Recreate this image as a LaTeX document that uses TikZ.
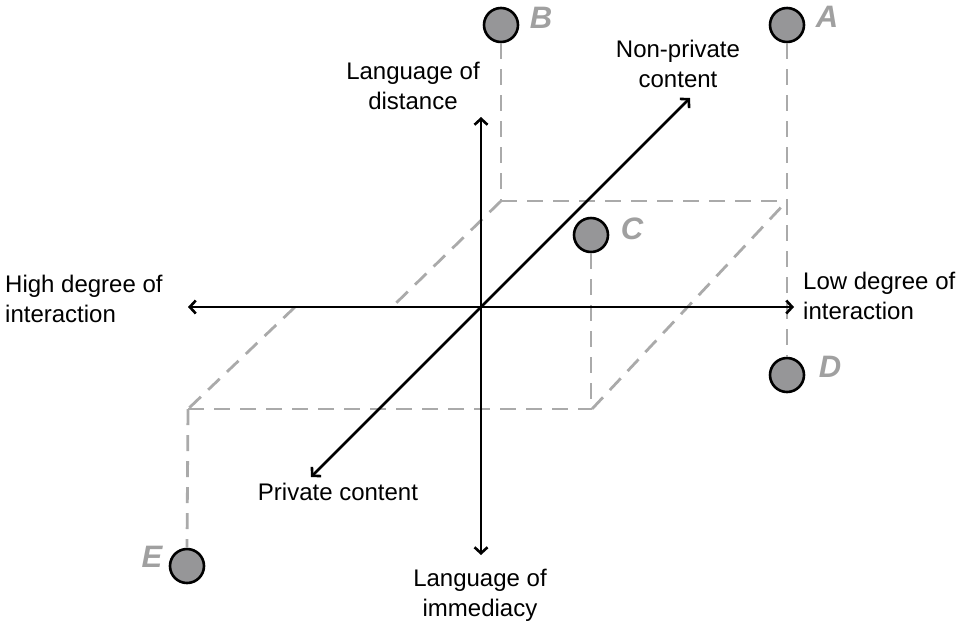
\documentclass[tikz,border=0pt]{standalone}
\usepackage{fontspec}
\setmainfont{Liberation Sans}
\usetikzlibrary{arrows.meta}
\definecolor{dashgray}{RGB}{170,170,170}
\definecolor{dotfill}{RGB}{150,150,152}
\definecolor{lettergray}{RGB}{160,160,160}
\begin{document}
\begin{tikzpicture}[x=1pt,y=-1pt,
  axis/.style={line width=2.6pt,{Straight Barb[length=6pt,width=13pt]}-{Straight Barb[length=6pt,width=13pt]}},
  guide/.style={dashgray,line width=2.8pt,dash pattern=on 16pt off 10pt},
  dot/.style={circle,draw=black,fill=dotfill,line width=2.6pt,minimum size=34pt,inner sep=0pt},
  letter/.style={text=lettergray,inner sep=0pt,font=\fontsize{31}{32}\selectfont\bfseries\itshape},
  lbl/.style={inner sep=0pt,font=\fontsize{24}{30}\selectfont}]
\useasboundingbox (0,0) rectangle (963,625);

% axis end points
\coordinate (top) at (481,117);
\coordinate (bottom) at (481,555);
\coordinate (left) at (188,307);
\coordinate (right) at (794,307);
\coordinate (ne) at (690,98);
\coordinate (sw) at (311,477);

% parallelogram corners
\coordinate (tl) at (501,201);
\coordinate (tr) at (787,201);
\coordinate (bl) at (188,409);
\coordinate (br) at (592,409);
\coordinate (lu) at (392,307);
\coordinate (ll) at (295,307);
\coordinate (cb) at (591,409);

% dots
\node[dot] (B) at (501,25) {};
\node[dot] (A) at (787,25) {};
\node[dot] (C) at (591,235) {};
\node[dot] (D) at (787,375) {};
\node[dot] (E) at (187,566) {};

% guides
\draw[guide] (B.south) -- (tl);
\draw[guide] (tl) -- (tr);
\draw[guide] (A.south) -- (D.north);
\draw[guide] (tl) -- (lu);
\draw[guide] (ll) -- (bl);
\draw[guide] (bl) -- (br);
\draw[guide] (bl) -- (E.north);
\draw[guide] (C.south) -- (cb);
\draw[guide] (br) -- (tr);

% axes
\draw[axis] (left) -- (right);
\draw[axis] (top) -- (bottom);
\draw[axis] (sw) -- (ne);

% letters
\node[letter] (lB) at (541,18) {B};
\node[letter] (lA) at (827,17) {A};
\node[letter] (lC) at (632,229) {C};
\node[letter] (lD) at (830,367) {D};
\node[letter] (lE) at (152,557) {E};

% labels
\node[lbl,align=center] (dist) at (413,86) {Language of\\distance};
\node[lbl,align=center] (nonpriv) at (678,64) {Non-private\\content};
\node[lbl,anchor=base] (priv) at (338,500) {Private content};
\node[lbl,align=center] (imm) at (480,595) {Language of\\immediacy};
\node[lbl,align=left,anchor=west] (high) at (5,299) {High degree of\\interaction};
\node[lbl,align=left,anchor=west] (low) at (803,296) {Low degree of\\interaction};
\end{tikzpicture}
\end{document}
